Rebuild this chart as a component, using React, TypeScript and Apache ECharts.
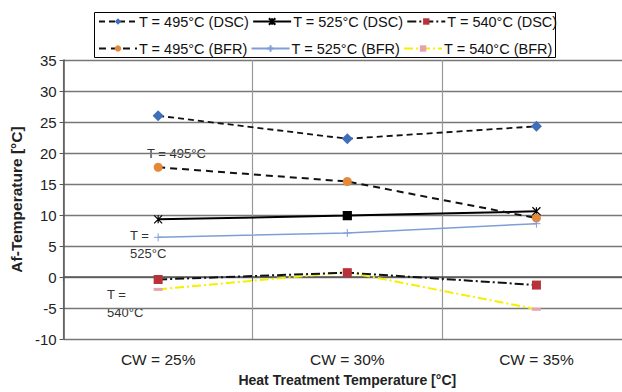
import React, { useEffect, useRef } from "react";
import * as echarts from "echarts";

const categories = ["CW = 25%", "CW = 30%", "CW = 35%"];
const t495DSC = [26.0, 22.3, 24.3];
const t525DSC = [9.3, 9.9, 10.6];
const t540DSC = [-0.4, 0.7, -1.3];
const t495BFR = [17.7, 15.4, 9.5];
const t525BFR = [6.4, 7.1, 8.6];
const t540BFR = [-2.0, 0.8, -5.2];
const yTicks = { min: -10, max: 35, interval: 5 };
const legendRow1 = ["T = 495°C (DSC)", "T = 525°C (DSC)", "T = 540°C (DSC)"];
const legendRow2 = ["T = 495°C (BFR)", "T = 525°C (BFR)", "T = 540°C (BFR)"];

const asterisk = "path://M0,0L10,10M10,0L0,10M5,0L5,10";
const plus = "path://M5,0L5,10M0,5L10,5";

export default function App() {
  const ref = useRef<HTMLDivElement>(null);
  useEffect(() => {
    const chart = echarts.init(ref.current!, null, { renderer: "svg" });
    const font = "Liberation Sans, Arial, sans-serif";
    const legendCommon = {
      left: 98,
      padding: 0,
      itemGap: 3,
      itemWidth: 38,
      itemHeight: 8,
      z: 10,
      textStyle: { fontSize: 14.5, color: "#111", padding: [0, 0, 0, -3] },
    };
    chart.setOption({
      animation: false,
      textStyle: { fontFamily: font },
      grid: { left: 63, right: 9, top: 60, bottom: 53 },
      legend: [
        { ...legendCommon, top: 14, data: legendRow1 },
        { ...legendCommon, top: 41, data: legendRow2 },
      ],
      xAxis: {
        type: "category",
        data: categories,
        boundaryGap: true,
        name: "Heat Treatment Temperature [°C]",
        nameLocation: "middle",
        nameGap: 34,
        nameTextStyle: { fontSize: 14, fontWeight: "bold", color: "#222" },
        axisLine: { lineStyle: { color: "#555", width: 1.5 } },
        axisTick: { show: true, length: 4, lineStyle: { color: "#555" } },
        axisLabel: { fontSize: 15.5, color: "#222", margin: 12 },
        splitLine: { show: true, lineStyle: { color: "#999", width: 1.2 } },
      },
      yAxis: {
        type: "value",
        min: yTicks.min,
        max: yTicks.max,
        interval: yTicks.interval,
        name: "Af-Temperature [°C]",
        nameLocation: "middle",
        nameGap: 32,
        nameTextStyle: { fontSize: 15.5, fontWeight: "bold", color: "#222" },
        axisLine: { show: true, lineStyle: { color: "#555", width: 1.5 } },
        axisTick: { show: true, length: 4, lineStyle: { color: "#555" } },
        axisLabel: { fontSize: 15, color: "#222", margin: 7 },
        splitLine: { show: true, lineStyle: { color: "#777", width: 1.3 } },
      },
      series: [
        {
          name: "T = 495°C (DSC)",
          type: "line",
          data: t495DSC,
          symbol: "diamond",
          symbolSize: 11,
          itemStyle: { color: "#3F6FB8" },
          lineStyle: { color: "#111", width: 1.8, type: [6, 4] },
          z: 3,
        },
        {
          name: "T = 525°C (DSC)",
          type: "line",
          data: t525DSC.map((v, i) =>
            i === 1 ? { value: v, symbol: "rect", symbolSize: 8, itemStyle: { color: "#000" } } : v
          ),
          symbol: asterisk,
          symbolSize: 8,
          itemStyle: { color: "#000", borderColor: "#000", borderWidth: 1.2 },
          lineStyle: { color: "#000", width: 2 },
          z: 3,
        },
        {
          name: "T = 540°C (DSC)",
          type: "line",
          data: t540DSC,
          symbol: "rect",
          symbolSize: 9,
          itemStyle: { color: "#B8323A" },
          lineStyle: { color: "#111", width: 2, type: [9, 3, 2, 3] },
          z: 3,
        },
        {
          name: "T = 495°C (BFR)",
          type: "line",
          data: t495BFR,
          symbol: "circle",
          symbolSize: 9,
          itemStyle: { color: "#E3893A" },
          lineStyle: { color: "#111", width: 2, type: [7, 5] },
          z: 3,
        },
        {
          name: "T = 525°C (BFR)",
          type: "line",
          data: t525BFR,
          symbol: plus,
          symbolSize: 8,
          itemStyle: { color: "#7F9ED8", borderColor: "#7F9ED8", borderWidth: 1 },
          lineStyle: { color: "#7F9ED8", width: 1.5 },
          z: 3,
        },
        {
          name: "T = 540°C (BFR)",
          type: "line",
          data: t540BFR,
          symbol: "rect",
          symbolSize: [9, 3],
          itemStyle: { color: "#E7A2B0" },
          lineStyle: { color: "#F5F000", width: 2, type: [9, 3, 2, 3] },
          z: 2,
        },
      ],
      graphic: [
        {
          type: "rect",
          z: 5,
          shape: { x: 94.5, y: 12.5, width: 461, height: 45 },
          style: { fill: "#fff", stroke: "#000", lineWidth: 1 },
        },
        { type: "text", left: 147, top: 147, style: { text: "T = 495°C", font: `13px ${font}`, fill: "#333" } },
        { type: "text", left: 130, top: 229, style: { text: "T =", font: `13px ${font}`, fill: "#333" } },
        { type: "text", left: 130, top: 247, style: { text: "525°C", font: `13px ${font}`, fill: "#333" } },
        { type: "text", left: 107, top: 288, style: { text: "T =", font: `13px ${font}`, fill: "#333" } },
        { type: "text", left: 107, top: 306, style: { text: "540°C", font: `13px ${font}`, fill: "#333" } },
      ],
    });
    return () => chart.dispose();
  }, []);
  return (
    <div
      style={{
        position: "fixed",
        left: 0,
        top: 0,
        width: 622,
        height: 392,
        overflow: "hidden",
        background: "#fff",
      }}
    >
      <div ref={ref} style={{ width: 640, height: 392 }} />
    </div>
  );
}
